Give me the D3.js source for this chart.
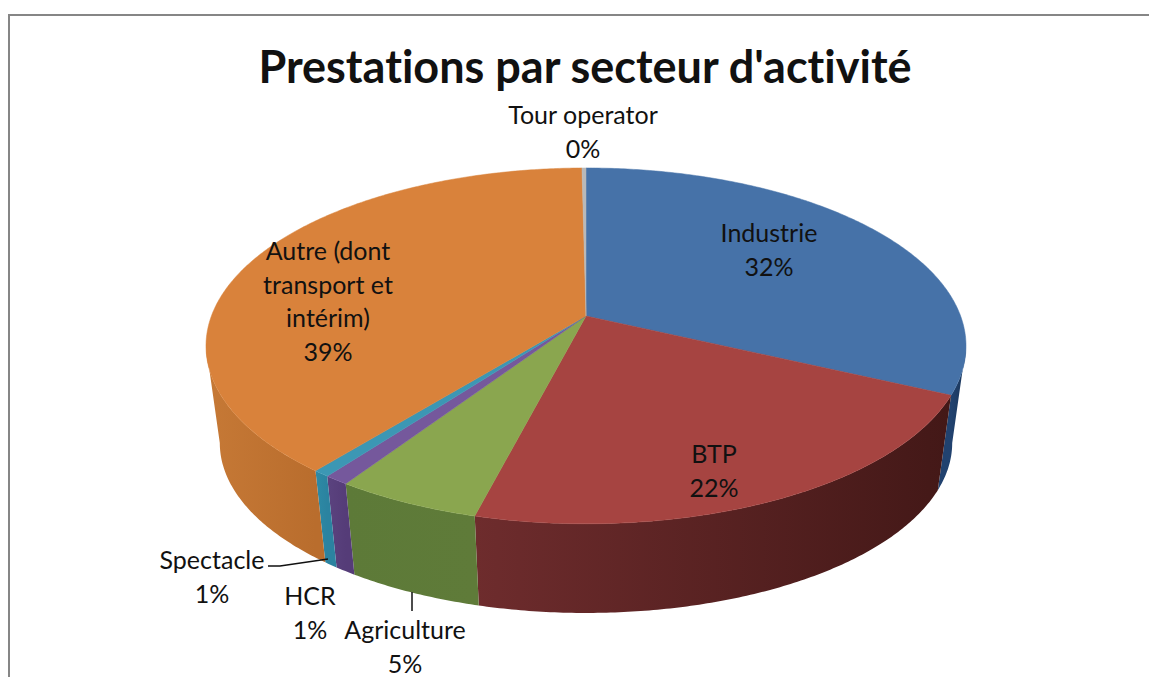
<!DOCTYPE html>
<html>
<head>
<meta charset="utf-8">
<script src="https://cdnjs.cloudflare.com/ajax/libs/d3/7.8.5/d3.min.js"></script>
<style>
  html, body { margin: 0; padding: 0; background: #fff; }
  svg { display: block; }
  text { font-family: Lato, "Open Sans", sans-serif; fill: #111; font-variant-ligatures: none; }
</style>
</head>
<body>
<svg id="chart" width="1149" height="677"></svg>
<script>
const chartTitle = "Prestations par secteur d'activité"
const categories = ["Industrie", "BTP", "Agriculture", "HCR", "Spectacle", "Autre (dont transport et intérim)", "Tour operator"]
const shares = [32, 22, 5.3, 0.9, 0.6, 39, 0.2]

const topColors = ["#4672a8", "#a64441", "#8aa64f", "#75589c", "#3c97b4", "#d9823b", "#b9b9b9"]
// wall colour at the left end and at the right end of each slice
const wallLeft = ["#21426f", "#6e2c2d", "#5d7a38", "#5b437f", "#2e8aa5", "#c67936", "#888888"]
const wallRight = ["#1a3558", "#431817", "#5f7b39", "#553c78", "#2b83a0", "#b96d2d", "#888888"]

// where each label sits, the lines are wrapped by hand like the original
const labelLayout = [
    { lines: ["Industrie"], x: 769, y: 242 },
    { lines: ["BTP"], x: 714, y: 463 },
    { lines: ["Agriculture"], x: 405, y: 639 },
    { lines: ["HCR"], x: 310, y: 605 },
    { lines: ["Spectacle"], x: 212, y: 569 },
    { lines: ["Autre (dont", "transport et", "intérim)"], x: 328, y: 260 },
    { lines: ["Tour operator"], x: 583, y: 124 }
]

const svg = d3.select("#chart")

// frame runs off the right and bottom of the picture
svg.append("rect")
    .attr("x", 9).attr("y", 15)
    .attr("width", 1200).attr("height", 700)
    .attr("fill", "white")
    .attr("stroke", "#868686")
    .attr("stroke-width", 2)

svg.append("text")
    .attr("x", 585).attr("y", 83)
    .attr("text-anchor", "middle")
    .attr("font-size", 45)
    .attr("font-weight", 700)
    .text(chartTitle)

// perspective disc: k pushes the apex back from the middle of the ellipse
const k = 0.168
function disc(cx, cy, a, b) {
    return (t) => {
        let d = 1 + k * Math.cos(t)
        return [cx + a * Math.sin(t) / d, cy - b * Math.cos(t) / d]
    }
}
const topRim = disc(586, 316, 374.6, 172.9)
const bottomRim = disc(586, 414.4, 361, 165.2)

const pie = d3.pie().sort(null).value((d) => d)
const slices = pie(shares)
const total = d3.sum(shares)
const pct = d3.format(".0%")
const line = d3.line()

function samples(a0, a1) {
    let n = Math.max(2, Math.ceil((a1 - a0) / 0.01))
    return d3.range(n + 1).map((i) => a0 + (a1 - a0) * i / n)
}

// only the front of the wall shows, between the two extreme points of the rim
const wallStart = Math.acos(-k)
const wallEnd = 2 * Math.PI - wallStart

const defs = svg.append("defs")
slices.forEach((s, i) => {
    let a0 = Math.max(s.startAngle, wallStart)
    let a1 = Math.min(s.endAngle, wallEnd)
    if (a1 <= a0) return
    let xs = [topRim(a0)[0], topRim(a1)[0]]
    let grad = defs.append("linearGradient")
        .attr("id", `wall-${i}`)
        .attr("gradientUnits", "userSpaceOnUse")
        .attr("x1", d3.min(xs)).attr("x2", d3.max(xs))
        .attr("y1", 0).attr("y2", 0)
    grad.append("stop").attr("offset", 0).attr("stop-color", wallLeft[i])
    grad.append("stop").attr("offset", 1).attr("stop-color", wallRight[i])

    let angles = samples(a0, a1)
    let pts = angles.map(topRim).concat(angles.slice().reverse().map(bottomRim))
    svg.append("path")
        .attr("class", "wall")
        .attr("d", line(pts) + "Z")
        .attr("fill", `url(#wall-${i})`)
})

const apex = [586, 316]
svg.selectAll("path.top")
    .data(slices)
    .enter()
    .append("path")
    .attr("class", "top")
    .attr("d", (d) => line([apex].concat(samples(d.startAngle, d.endAngle).map(topRim))) + "Z")
    .attr("fill", (d, i) => topColors[i])
    .attr("stroke", (d, i) => topColors[i])
    .attr("stroke-width", 0.5)

// leader lines
const leader = d3.line()
svg.append("path")
    .attr("d", leader([[268, 566], [280, 566], [328, 559]]))
    .attr("fill", "none").attr("stroke", "#111").attr("stroke-width", 1.5)
svg.append("path")
    .attr("d", leader([[412, 592], [412, 611]]))
    .attr("fill", "none").attr("stroke", "#111").attr("stroke-width", 1.5)

const labels = svg.selectAll("g.label")
    .data(slices)
    .enter()
    .append("g")
    .attr("class", "label")

labels.each(function(d, i) {
    let layout = labelLayout[i]
    let rows = layout.lines.concat([pct(d.value / total)])
    d3.select(this).selectAll("text")
        .data(rows)
        .enter()
        .append("text")
        .attr("x", layout.x)
        .attr("y", (r, j) => layout.y + j * 33.7)
        .attr("text-anchor", "middle")
        .attr("font-size", 25)
        .text((r) => r)
})
</script>
</body>
</html>
